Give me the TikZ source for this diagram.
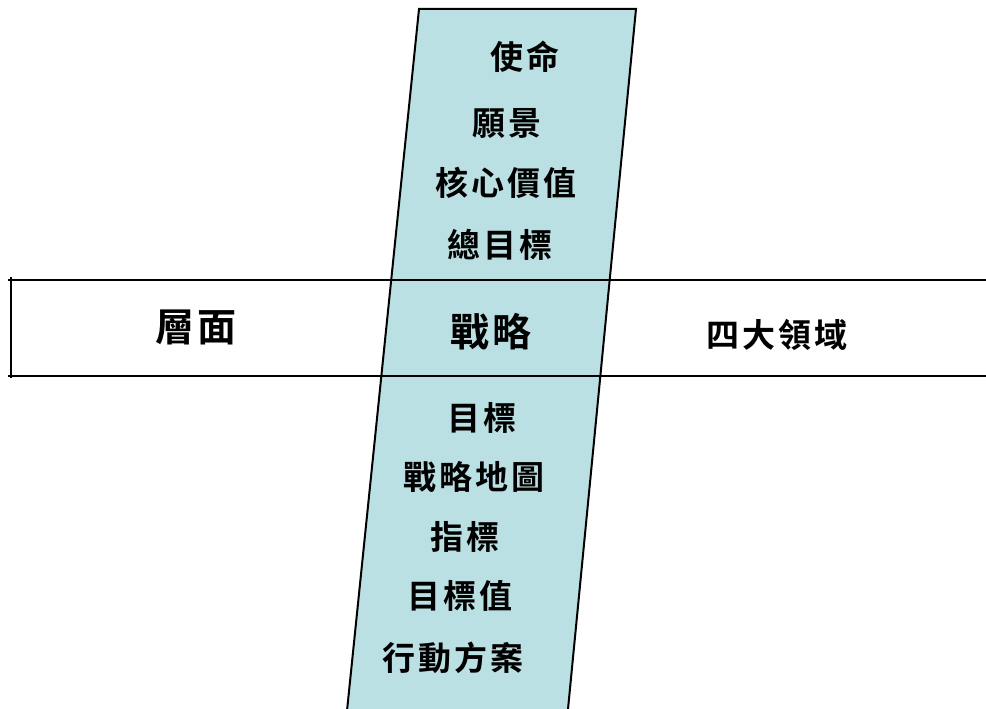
\documentclass[tikz,border=0pt]{standalone}
\usepackage{fontspec}
\newfontfamily\cjkfont[LetterSpace=10]{Noto Sans CJK TC Bold}
\definecolor{bandblue}{RGB}{187,224,227}

\begin{document}
\begin{tikzpicture}[x=1pt, y=-1pt, line width=2pt, every node/.style={font=\cjkfont\fontsize{33}{33}\selectfont, inner sep=0pt}, bigtext/.style={font=\cjkfont\fontsize{39}{39}\selectfont}]
	\useasboundingbox (0,0) rectangle (986,709);
	\clip (0,0) rectangle (986,709);

	% slanted strip
	\coordinate (tl) at (419,9);
	\coordinate (tr) at (636,9);
	\coordinate (br) at (565,740);
	\coordinate (bl) at (344,740);
	\fill[bandblue] (tl) -- (tr) -- (br) -- (bl) -- cycle;
	\draw (bl) -- (tl) -- (tr) -- (br);

	% horizontal band
	\coordinate (ul) at (8,280);
	\coordinate (ur) at (990,280);
	\coordinate (ll) at (8,376);
	\coordinate (lr) at (990,376);
	\draw (ul) -- (ur);
	\draw (ll) -- (lr);
	\draw ([yshift=3pt]ul -| 11,0) -- ([yshift=-2pt]ll -| 11,0);

	\node (mission) at (525,57) {使命};
	\node (vision) at (507,123) {願景};
	\node (values) at (506,183) {核心價值};
	\node (goal) at (500,245) {總目標};

	\node[bigtext] (level) at (196,327) {層面};
	\node[bigtext] (strategy) at (491,332) {戰略};
	\node (domains) at (777,335) {四大領域};

	\node (target) at (482,418) {目標};
	\node (map) at (474,477) {戰略地圖};
	\node (kpi) at (465,537) {指標};
	\node (tvalue) at (460,596) {目標值};
	\node (action) at (453,658) {行動方案};
\end{tikzpicture}
\end{document}
